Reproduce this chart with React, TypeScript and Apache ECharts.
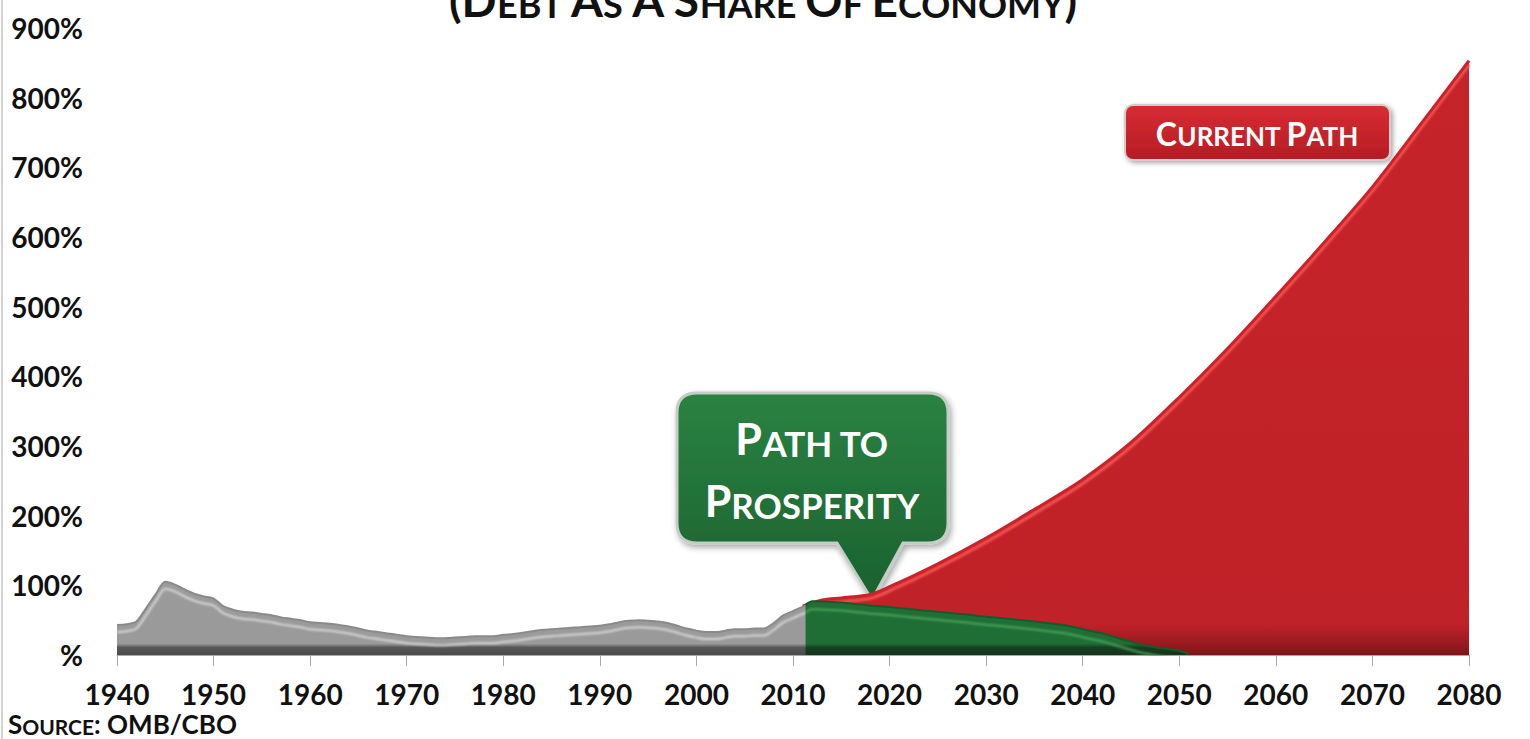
import React, { useEffect, useRef } from "react";
import * as echarts from "echarts";

// Historical debt as a share of the economy (%)
const HIST_YEARS = [
  1940, 1941, 1942, 1943, 1944, 1945, 1946, 1947, 1948, 1949,
  1950, 1951, 1952, 1953, 1954, 1955, 1956, 1957, 1958, 1959,
  1960, 1961, 1962, 1963, 1964, 1965, 1966, 1967, 1968, 1969,
  1970, 1971, 1972, 1973, 1974, 1975, 1976, 1977, 1978, 1979,
  1980, 1981, 1982, 1983, 1984, 1985, 1986, 1987, 1988, 1989,
  1990, 1991, 1992, 1993, 1994, 1995, 1996, 1997, 1998, 1999,
  2000, 2001, 2002, 2003, 2004, 2005, 2006, 2007, 2008, 2009,
  2010, 2011, 2012,
];
const HIST_DEBT = [
  43, 44, 48, 67, 87, 105, 101, 94, 88, 84,
  81, 70, 65, 62, 61, 59, 57, 54, 52, 50,
  47, 46, 45, 43, 41, 38, 35, 33, 31, 29,
  27, 26, 25, 24, 24, 25, 26, 27, 27, 27,
  29, 30, 32, 34, 36, 37, 38, 39, 40, 41,
  42, 44, 47, 49, 50, 49, 48, 46, 42, 38,
  35, 33, 33, 35, 37, 37, 38, 38, 46, 57,
  63, 69, 74,
];

// "Current Path" projection
const CURRENT_YEARS = [2011, 2013, 2015, 2018, 2020, 2025, 2030, 2035, 2040, 2045, 2050, 2055, 2060, 2065, 2070, 2075, 2080];
const CURRENT_DEBT = [70, 79, 82, 87, 98, 131, 168, 209, 252, 305, 370, 440, 515, 592, 672, 762, 853];

// "Path to Prosperity" projection
const PROSPERITY_YEARS = [2011.3, 2012, 2014, 2016, 2018, 2020, 2022, 2025, 2028, 2030, 2033, 2035, 2038, 2040, 2042, 2044, 2046, 2048, 2050, 2051];
const PROSPERITY_DEBT = [72, 77, 76, 74, 71, 69, 66, 62, 58, 55, 51, 48, 43, 37, 31, 23, 15, 10, 6, 1];

const X_MIN = 1940;
const X_MAX = 2080;
const X_STEP = 10;
const Y_MIN = 0;
const Y_MAX = 900;
const Y_STEP = 100;

const TITLE_RICH = "{b|(D}{s|EBT }{b|A}{s|S }{b|A S}{s|HARE }{b|O}{s|F }{b|E}{s|CONOMY}{b|)}";
const SOURCE_RICH = "{b|S}{s|OURCE}{b|: OMB/CBO}";
const GREEN_LINE1 = "{b|P}{s|ATH TO}";
const GREEN_LINE2 = "{b|P}{s|ROSPERITY}";
const RED_LABEL = "{b|C}{s|URRENT }{b|P}{s|ATH}";

const BUBBLE_D =
  "M20 0 H251 Q271 0 271 20 V130 Q271 150 251 150 H226 L195 207 L160 150 H20 Q0 150 0 130 V20 Q0 0 20 0 Z";

let registered = false;
function ensureShapes() {
  if (registered) return;
  echarts.graphic.registerShape("bubble", echarts.graphic.extendPath(BUBBLE_D, {}));
  registered = true;
}

const FONT = "Lato";

function pairs(xs: number[], ys: number[]) {
  return xs.map((x, i) => [x, ys[i]]);
}

function vGrad(stops: [number, string][]) {
  return new echarts.graphic.LinearGradient(
    0, 28, 0, 655,
    stops.map(([offset, color]) => ({ offset, color })),
    true
  );
}

export default function App() {
  const ref = useRef<HTMLDivElement>(null);

  useEffect(() => {
    if (!ref.current) return;
    ensureShapes();
    const chart = echarts.init(ref.current, undefined, { renderer: "svg" });

    const richBig = (size: number, color: string) => ({
      fontFamily: FONT, fontWeight: "bold", fontSize: size, lineHeight: size,
      fill: color, color, verticalAlign: "bottom",
    });

    const option: any = {
      animation: false,
      backgroundColor: "#ffffff",
      grid: { left: 117, right: 61, top: 28, bottom: 84 },
      xAxis: {
        type: "value",
        min: X_MIN,
        max: X_MAX,
        interval: X_STEP,
        axisLine: { show: true, lineStyle: { color: "#a8a8a8", width: 1 } },
        axisTick: { show: true, length: 11, lineStyle: { color: "#a8a8a8" } },
        splitLine: { show: false },
        axisLabel: {
          margin: 25,
          color: "#111",
          fontFamily: FONT,
          fontWeight: "bold",
          fontSize: 28,
          formatter: (v: number) => String(v),
        },
      },
      yAxis: {
        type: "value",
        min: Y_MIN,
        max: Y_MAX,
        interval: Y_STEP,
        axisLine: { show: false },
        axisTick: { show: false },
        splitLine: { show: false },
        axisLabel: {
          margin: 34,
          color: "#111",
          fontFamily: FONT,
          fontWeight: "bold",
          fontSize: 28,
          formatter: (v: number) => (v === 0 ? "%" : v + "%"),
        },
      },
      series: [
        {
          name: "Current Path",
          type: "line",
          data: pairs(CURRENT_YEARS, CURRENT_DEBT),
          smooth: 0.3,
          showSymbol: false,
          silent: true,
          z: 1,
          lineStyle: {
            color: "#c9242b",
            width: 3,
            shadowColor: "rgba(255,90,90,0.9)",
            shadowBlur: 2,
            shadowOffsetY: 4,
          },
          areaStyle: {
            opacity: 1,
            color: vGrad([
              [0, "#c52429"],
              [0.95, "#c02229"],
              [0.985, "#941a1f"],
              [1, "#7c1518"],
            ]),
          },
        },
        {
          name: "Historical",
          type: "line",
          data: pairs(HIST_YEARS, HIST_DEBT),
          smooth: 0.3,
          showSymbol: false,
          silent: true,
          z: 2,
          lineStyle: {
            color: "#8a8a8a",
            width: 2,
            shadowColor: "rgba(220,220,220,0.95)",
            shadowBlur: 2,
            shadowOffsetY: 7,
          },
          areaStyle: {
            opacity: 1,
            color: vGrad([
              [0, "#a2a2a2"],
              [0.982, "#9a9a9a"],
              [0.988, "#575757"],
              [1, "#4a4a4a"],
            ]),
          },
        },
        {
          name: "Path to Prosperity",
          type: "line",
          data: pairs(PROSPERITY_YEARS, PROSPERITY_DEBT),
          smooth: 0.3,
          showSymbol: false,
          silent: true,
          z: 3,
          lineStyle: {
            color: "#195a2b",
            width: 2,
            shadowColor: "rgba(80,170,95,0.9)",
            shadowBlur: 2,
            shadowOffsetY: 8,
          },
          areaStyle: {
            opacity: 1,
            color: vGrad([
              [0, "#23783b"],
              [0.982, "#1f6e36"],
              [0.988, "#173f21"],
              [1, "#14341b"],
            ]),
          },
        },
      ],
      graphic: [
        {
          type: "line",
          silent: true,
          shape: { x1: 2, y1: 0, x2: 2, y2: 739 },
          style: { stroke: "#d2d2d2", lineWidth: 2 },
        },
        {
          type: "text",
          silent: true,
          x: 763,
          y: 22,
          style: {
            text: TITLE_RICH,
            align: "center",
            verticalAlign: "bottom",
            fill: "#111",
            rich: { b: richBig(46, "#111"), s: richBig(36, "#111") },
          },
        },
        {
          type: "bubble",
          silent: true,
          x: 677,
          y: 393,
          style: {
            fill: new echarts.graphic.LinearGradient(0, 0, 0, 1, [
              { offset: 0, color: "#2b8243" },
              { offset: 1, color: "#1b612f" },
            ]),
            stroke: "#c3ccc5",
            lineWidth: 3,
            shadowBlur: 6,
            shadowColor: "rgba(0,0,0,0.35)",
            shadowOffsetX: 2,
            shadowOffsetY: 3,
          },
        },
        {
          type: "text",
          silent: true,
          x: 812,
          y: 460,
          style: {
            text: GREEN_LINE1,
            align: "center",
            verticalAlign: "bottom",
            fill: "#fff",
            rich: { b: richBig(43, "#ffffff"), s: richBig(35, "#ffffff") },
          },
        },
        {
          type: "text",
          silent: true,
          x: 812,
          y: 522,
          style: {
            text: GREEN_LINE2,
            align: "center",
            verticalAlign: "bottom",
            fill: "#fff",
            rich: { b: richBig(43, "#ffffff"), s: richBig(35, "#ffffff") },
          },
        },
        {
          type: "rect",
          silent: true,
          shape: { x: 1125, y: 105, width: 265, height: 55, r: 8 },
          style: {
            fill: new echarts.graphic.LinearGradient(0, 0, 0, 1, [
              { offset: 0, color: "#d92c33" },
              { offset: 1, color: "#b51c23" },
            ]),
            stroke: "#d9c9c9",
            lineWidth: 2,
            shadowBlur: 5,
            shadowColor: "rgba(0,0,0,0.35)",
            shadowOffsetX: 2,
            shadowOffsetY: 2,
          },
        },
        {
          type: "text",
          silent: true,
          x: 1257,
          y: 149,
          style: {
            text: RED_LABEL,
            align: "center",
            verticalAlign: "bottom",
            fill: "#fff",
            rich: { b: richBig(32, "#ffffff"), s: richBig(26, "#ffffff") },
          },
        },
        {
          type: "text",
          silent: true,
          x: 8,
          y: 737,
          style: {
            text: SOURCE_RICH,
            align: "left",
            verticalAlign: "bottom",
            fill: "#111",
            rich: { b: richBig(26, "#111"), s: richBig(21, "#111") },
          },
        },
      ],
    };

    chart.setOption(option);
    return () => chart.dispose();
  }, []);

  return (
    <div
      ref={ref}
      style={{ position: "fixed", left: 0, top: 0, width: 1530, height: 739, background: "#fff" }}
    />
  );
}
